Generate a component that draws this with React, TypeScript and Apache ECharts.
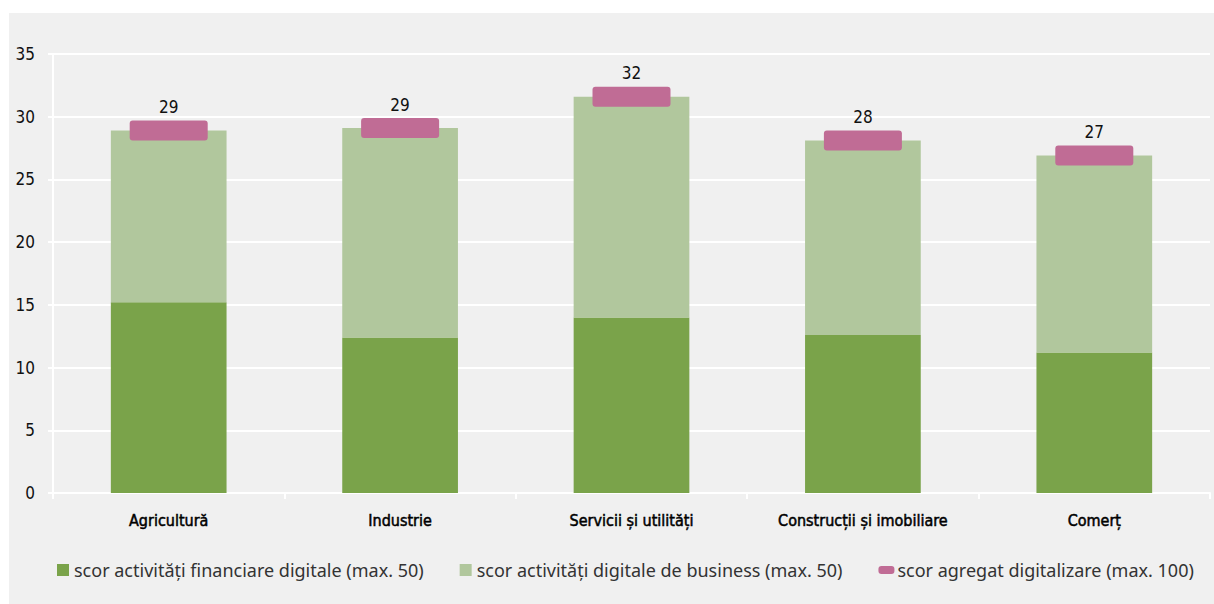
import React, { useEffect, useRef } from "react";
import * as echarts from "echarts";

const categories = ["Agricultură", "Industrie", "Servicii și utilități", "Construcții și imobiliare", "Comerț"];
const financial = [15.2, 12.4, 14.0, 12.6, 11.2];
const business = [13.7, 16.7, 17.6, 15.5, 15.7];
const aggregate = [28.9, 29.1, 31.6, 28.1, 26.9];
const seriesNames = [
  "scor activități financiare digitale (max. 50)",
  "scor activități digitale de business (max. 50)",
  "scor agregat digitalizare (max. 100)",
];
const yTicks = { min: 0, max: 35, interval: 5 };

const NARROW = "'Liberation Sans Narrow', 'DejaVu Sans Condensed', sans-serif";
const REG = "'Noto Sans', 'Open Sans', sans-serif";

const markerPath =
  "path://M3,0H75A3,3 0 0 1 78,3V17A3,3 0 0 1 75,20H3A3,3 0 0 1 0,17V3A3,3 0 0 1 3,0Z";

export default function App() {
  const ref = useRef<HTMLDivElement>(null);
  useEffect(() => {
    if (!ref.current) return;
    const chart = echarts.init(ref.current, null, { renderer: "svg" });
    chart.setOption({
      animation: false,
      grid: { left: 53, right: 4, top: 54, bottom: 111, containLabel: false },
      xAxis: {
        type: "category",
        data: categories,
        axisLine: { show: true, lineStyle: { color: "#ffffff", width: 2 } },
        axisTick: { show: true, length: 6, lineStyle: { color: "#ffffff", width: 2 } },
        axisLabel: {
          interval: 0,
          color: "#000000",
          fontFamily: NARROW,
          fontSize: 16,
          textBorderColor: "#000000",
          textBorderWidth: 0.5,
          margin: 19,
        },
      },
      yAxis: {
        type: "value",
        min: yTicks.min,
        max: yTicks.max,
        interval: yTicks.interval,
        axisLine: { show: true, lineStyle: { color: "#ffffff", width: 2 } },
        axisTick: { show: true, length: 5, lineStyle: { color: "#ffffff", width: 2 } },
        splitLine: { show: true, lineStyle: { color: "#ffffff", width: 2 } },
        axisLabel: { color: "#111111", fontFamily: NARROW, fontSize: 17, margin: 18 },
      },
      legend: {
        bottom: 20,
        left: 52,
        itemWidth: 16,
        itemHeight: 12,
        itemGap: 36,
        textStyle: { color: "#333333", fontFamily: REG, fontSize: 18, padding: [0, 0, 0, -2] },
        data: [
          { name: seriesNames[0], icon: "path://M0,0h10v10h-10z" },
          { name: seriesNames[1], icon: "path://M0,0h10v10h-10z" },
          { name: seriesNames[2], icon: "path://M3,0h10a3,3 0 0 1 3,3v2a3,3 0 0 1 -3,3h-10a3,3 0 0 1 -3,-3v-2a3,3 0 0 1 3,-3z" },
        ],
      },
      series: [
        {
          name: seriesNames[0],
          type: "bar",
          stack: "s",
          barCategoryGap: "50%",
          data: financial,
          itemStyle: { color: "#7aa34a" },
        },
        {
          name: seriesNames[1],
          type: "bar",
          stack: "s",
          barCategoryGap: "50%",
          data: business,
          itemStyle: { color: "#b1c79d" },
        },
        {
          name: seriesNames[2],
          type: "scatter",
          data: aggregate,
          symbol: markerPath,
          symbolSize: [78, 20],
          z: 5,
          itemStyle: { color: "#c06c95", opacity: 1 },
          label: {
            show: true,
            position: "top",
            distance: 5,
            color: "#111111",
            fontFamily: NARROW,
            fontSize: 17,
            formatter: (p: any) => String(Math.round(p.value)),
          },
        },
      ],
    });
    return () => chart.dispose();
  }, []);
  return (
    <div style={{ position: "fixed", left: 0, top: 0, width: 1214, height: 604, background: "#ffffff" }}>
      <div style={{ position: "absolute", left: 9, top: 13, width: 1205, height: 591, background: "#f0f0f0" }} />
      <div ref={ref} style={{ position: "absolute", left: 0, top: 0, width: 1214, height: 604 }} />
    </div>
  );
}
